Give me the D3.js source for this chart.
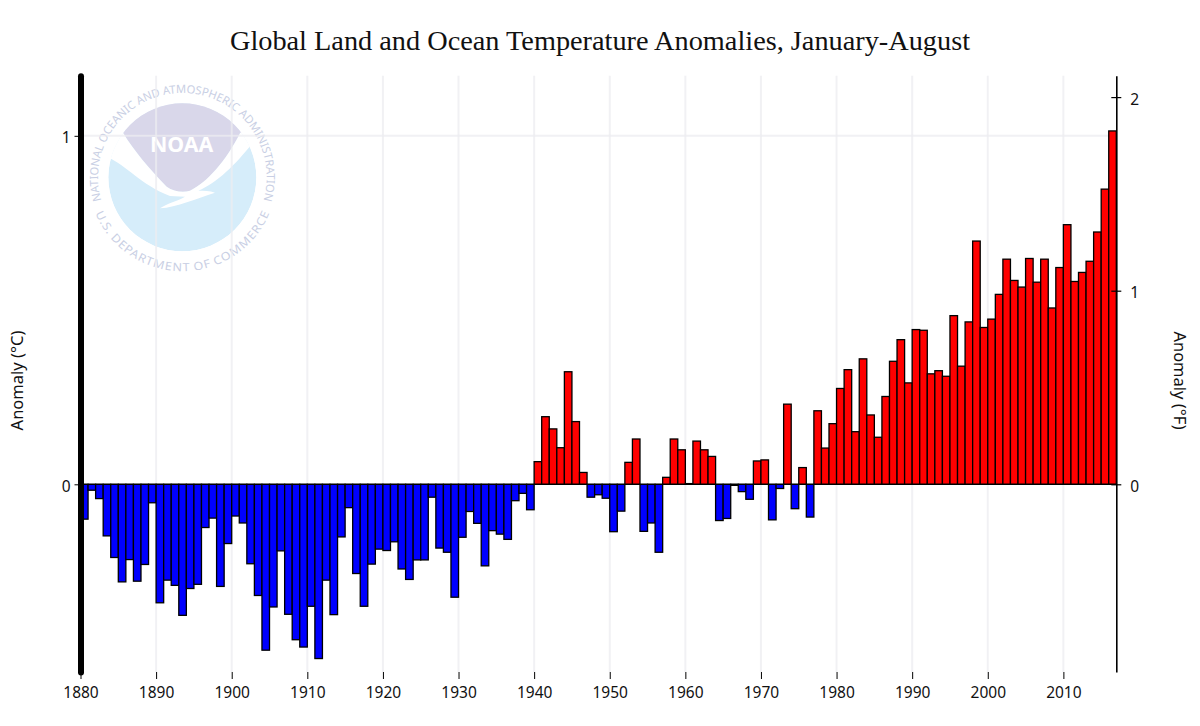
<!DOCTYPE html>
<html>
<head>
<meta charset="utf-8">
<script src="https://cdn.jsdelivr.net/npm/d3@7"></script>
<style>
html,body{margin:0;padding:0;background:#fff;overflow:hidden}
svg{display:block}
text{font-family:"Noto Sans",sans-serif;fill:#111}
</style>
</head>
<body>
<svg id="chart" width="1200" height="726"></svg>
<script>
const firstYear = 1880;
const anomalies = [
-0.100,-0.017,-0.041,-0.148,-0.210,-0.280,-0.216,-0.278,-0.230,-0.053,
-0.340,-0.275,-0.290,-0.376,-0.299,-0.287,-0.124,-0.097,-0.293,-0.170,
-0.091,-0.111,-0.228,-0.319,-0.476,-0.352,-0.191,-0.373,-0.446,-0.467,
-0.350,-0.500,-0.275,-0.374,-0.151,-0.067,-0.256,-0.350,-0.229,-0.186,
-0.190,-0.165,-0.243,-0.273,-0.217,-0.217,-0.037,-0.183,-0.195,-0.324,
-0.152,-0.078,-0.112,-0.234,-0.133,-0.143,-0.158,-0.047,-0.026,-0.073,
0.065,0.194,0.159,0.105,0.323,0.180,0.034,-0.037,-0.030,-0.040,
-0.136,-0.077,0.063,0.130,-0.135,-0.111,-0.195,0.020,0.130,0.099,
0.002,0.124,0.099,0.080,-0.104,-0.098,-0.003,-0.021,-0.043,0.067,
0.070,-0.102,-0.012,0.230,-0.070,0.048,-0.094,0.211,0.104,0.174,
0.275,0.329,0.151,0.360,0.199,0.135,0.252,0.353,0.415,0.291,
0.444,0.442,0.317,0.326,0.310,0.484,0.339,0.466,0.698,0.450,
0.474,0.545,0.646,0.585,0.566,0.648,0.580,0.646,0.506,0.622,
0.745,0.582,0.608,0.640,0.724,0.847,1.014
];
const yearTicks = [1880,1890,1900,1910,1920,1930,1940,1950,1960,1970,1980,1990,2000,2010];
const celsiusTicks = [0,1];
const fahrenheitTicks = [0,1,2];
const titleText = "Global Land and Ocean Temperature Anomalies, January-August";

const svg = d3.select("#chart");
const x = d3.scaleLinear().domain([firstYear, firstYear + anomalies.length]).range([80.5, 1116.3]);
const y = d3.scaleLinear().domain([-0.5386, 1.1725]).range([672, 75.7]);
const yF = d3.scaleLinear().domain([-0.5386*1.8, 1.1725*1.8]).range([672, 75.7]);

/* NOAA watermark, drawn in a 3x local frame */
const logo = svg.append("g").attr("transform","translate(70,70) scale(0.33333)");
const defs = svg.append("defs");
defs.append("clipPath").attr("id","disc").append("circle").attr("cx",337).attr("cy",322).attr("r",222);
const disc = logo.append("g").attr("clip-path","url(#disc)");
disc.append("circle").attr("cx",337).attr("cy",322).attr("r",222).attr("fill","#d6edfa");
disc.append("path").attr("fill","#d9d7ea")
  .attr("d","M80,60 L600,60 L600,140 L510,190 C470,270 410,340 360,362 C340,368 310,365 290,350 C240,300 190,240 160,190 L80,140 Z");
disc.append("path").attr("fill","#fff")
  .attr("d","M90,255 C160,270 200,340 300,378 L345,380 C320,395 290,400 270,415 C320,412 380,385 435,368 C420,362 400,362 385,362 C440,340 500,280 545,222 L530,170 L510,190 C470,270 410,340 360,362 C340,368 310,365 290,350 C240,300 190,240 160,190 L90,170 Z");
logo.append("text").attr("x",335).attr("y",246).attr("text-anchor","middle")
  .attr("textLength",190).attr("lengthAdjust","spacingAndGlyphs")
  .style("font-size","62px").style("font-weight","700").style("fill","#fff").text("NOAA");
defs.append("path").attr("id","ringTop").attr("d","M 98,405 A 253,253 0 1 1 576,405");
defs.append("path").attr("id","ringBottom").attr("d","M 94,395 A 254,254 0 0 0 580,395");
logo.append("text").style("font-size","34px").style("fill","#c9cfe4")
  .append("textPath").attr("href","#ringTop").attr("startOffset","50%").attr("text-anchor","middle")
  .attr("textLength",935).attr("lengthAdjust","spacingAndGlyphs").text("NATIONAL OCEANIC AND ATMOSPHERIC ADMINISTRATION");
logo.append("text").style("font-size","34px").style("fill","#c9cfe4")
  .append("textPath").attr("href","#ringBottom").attr("startOffset","50%").attr("text-anchor","middle")
  .attr("dominant-baseline","hanging").attr("textLength",600).attr("lengthAdjust","spacingAndGlyphs").text("U.S. DEPARTMENT OF COMMERCE");

/* grid */
const grid = svg.append("g").attr("stroke","#ececf0").attr("stroke-opacity",0.75).attr("stroke-width",2);
grid.selectAll("line.v").data(yearTicks.slice(1)).join("line").attr("class","v")
  .attr("x1",d=>x(d)).attr("x2",d=>x(d)).attr("y1",y.range()[1]).attr("y2",y.range()[0]);
grid.selectAll("line.h").data([1]).join("line").attr("class","h")
  .attr("x1",x.range()[0]).attr("x2",x.range()[1]).attr("y1",d=>y(d)).attr("y2",d=>y(d));

/* bars */
svg.append("g").selectAll("rect").data(anomalies).join("rect")
  .attr("x",(d,i)=>x(firstYear+i))
  .attr("width",(d,i)=>x(firstYear+i+1)-x(firstYear+i))
  .attr("y",d=>d>=0?y(d):y(0))
  .attr("height",d=>Math.abs(y(d)-y(0)))
  .attr("fill",d=>d>=0?"#ff0000":"#0000ff")
  .attr("stroke","#000").attr("stroke-width",1.3);

/* baseline */
svg.append("line").attr("x1",x.range()[0]).attr("x2",x.range()[1]).attr("y1",y(0)).attr("y2",y(0))
  .attr("stroke","#000").attr("stroke-width",1.2);

/* axes */
const bottom = svg.append("g").attr("transform",`translate(0,${y.range()[0]})`)
  .call(d3.axisBottom(x).tickValues(yearTicks).tickFormat(d3.format("d")).tickSize(7).tickPadding(8));
bottom.select(".domain").remove();
bottom.selectAll("text").style("font-size","15.5px").style("font-family",'"Noto Sans",sans-serif').attr("fill","#111");

const left = svg.append("g").attr("transform",`translate(${x.range()[0]},0)`)
  .call(d3.axisLeft(y).tickValues(celsiusTicks).tickFormat(d3.format("d")).tickSize(6).tickPadding(4).tickSizeOuter(0));
left.select(".domain").attr("stroke-width",6).attr("stroke-linecap","round");
left.selectAll("text").attr("y",2).style("font-size","15.5px").style("font-family",'"Noto Sans",sans-serif').attr("fill","#111");

const right = svg.append("g").attr("transform",`translate(${x.range()[1]},0)`)
  .call(d3.axisRight(yF).tickValues(fahrenheitTicks).tickFormat(d3.format("d")).tickSize(5).tickPadding(9).tickSizeOuter(0));
right.select(".domain").attr("stroke-width",1.6);
right.selectAll(".tick line").attr("x1",-5).attr("x2",5).attr("stroke-width",1.2);
right.selectAll("text").attr("y",2).style("font-size","15.5px").style("font-family",'"Noto Sans",sans-serif').attr("fill","#111");

/* titles */
svg.append("text").attr("x",600).attr("y",50).attr("text-anchor","middle")
  .style("font-family",'"Liberation Serif",serif').style("font-size","28.3px").text(titleText);
svg.append("text").attr("transform","translate(23,380.5) rotate(-90)").attr("text-anchor","middle")
  .style("font-size","16.5px").text("Anomaly (°C)");
svg.append("text").attr("transform","translate(1174,380.5) rotate(90)").attr("text-anchor","middle")
  .style("font-size","16.5px").text("Anomaly (°F)");
</script>
</body>
</html>
